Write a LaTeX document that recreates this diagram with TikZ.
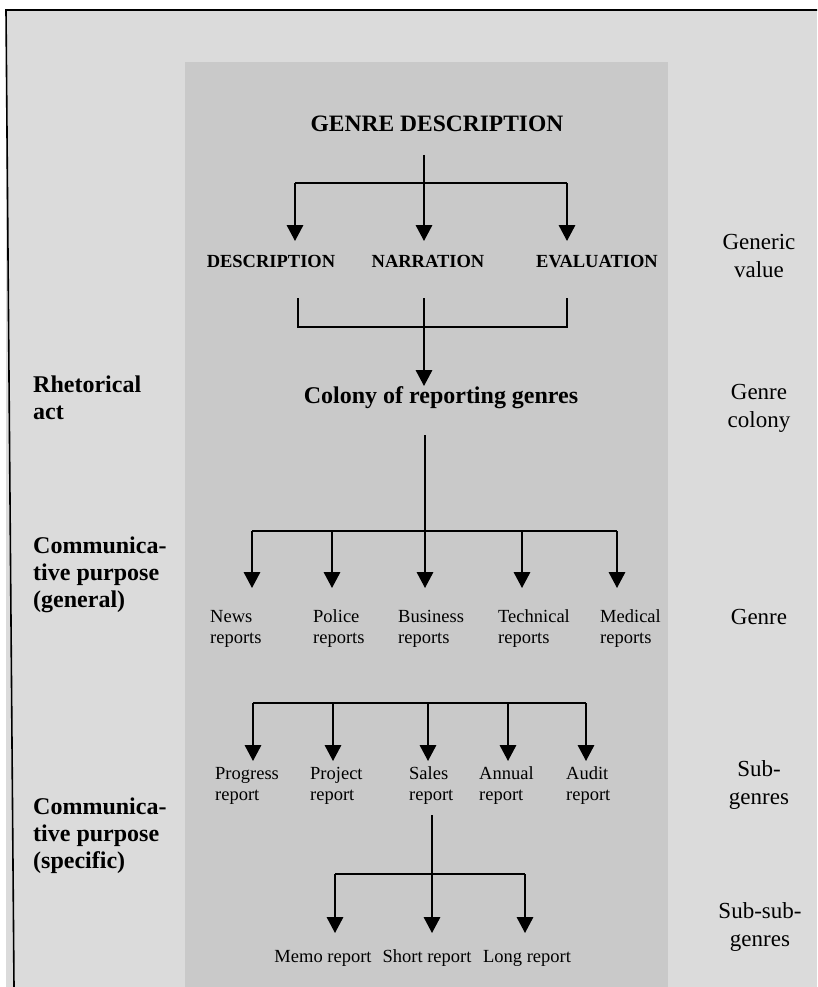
\documentclass[tikz,border=0pt]{standalone}
\usepackage{fontspec}
\setmainfont{Liberation Serif}
\usetikzlibrary{arrows.meta}

\definecolor{outerbg}{gray}{0.86}
\definecolor{panelbg}{gray}{0.79}

\begin{document}
\begin{tikzpicture}[x=1pt,y=-1pt,
  conn/.style={line width=1.8pt},
  arr/.style={conn,-{Triangle[length=16pt,width=16.5pt]}},
  titletext/.style={font=\bfseries\fontsize{23.5}{28}\selectfont,inner sep=0pt,anchor=base},
  valuetext/.style={font=\bfseries\fontsize{18.5}{22}\selectfont,inner sep=0pt,anchor=base},
  colonytext/.style={font=\bfseries\fontsize{24}{28}\selectfont,inner sep=0pt,anchor=base},
  leaf/.style={font=\fontsize{18.5}{20.5}\selectfont,inner sep=0pt,align=left,anchor=base west},
  lefttag/.style={font=\bfseries\fontsize{24}{27}\selectfont,inner sep=0pt,align=left,anchor=base west},
  righttag/.style={font=\fontsize{23}{28}\selectfont,inner sep=0pt,align=center,anchor=base}
]
\useasboundingbox (0,0) rectangle (817,987);
% page, frame and shaded column
\fill[white] (0,0) rectangle (817,987);
\fill[outerbg] (6,10) rectangle (817,987);
\fill[panelbg] (185,62) rectangle (668,987);
\draw[line width=1.6pt] (817,10) -- (6,10) -- (14,987);

% ---- generic values
\node[titletext] (gd) at (437,132) {GENRE DESCRIPTION};
\node[valuetext] (desc) at (271,267) {DESCRIPTION};
\node[valuetext] (narr) at (428,267) {NARRATION};
\node[valuetext] (eval) at (597,267) {EVALUATION};

\coordinate (gdS) at (424,155);
\coordinate (gdL) at (295,183);
\coordinate (gdR) at (567,183);
\coordinate (descN) at (295,241);
\coordinate (narrN) at (424,241);
\coordinate (evalN) at (567,241);
\draw[conn] (gdL) -- (gdR);
\draw[arr] (gdS) -- (narrN);
\draw[arr] (gdL) -- (descN);
\draw[arr] (gdR) -- (evalN);

% ---- colony
\node[colonytext] (colony) at (441,403) {Colony of reporting genres};
\coordinate (descS) at (298,298);
\coordinate (narrS) at (424,298);
\coordinate (evalS) at (567,298);
\coordinate (barL) at (298,327);
\coordinate (barR) at (567,327);
\coordinate (colonyN) at (424,386);
\draw[conn] (descS) -- (barL) -- (barR) -- (evalS);
\draw[arr] (narrS) -- (colonyN);

% ---- genres (node base = baseline of the last line)
\node[leaf] (news) at (210,643) {News\\ reports};
\node[leaf] (police) at (313,643) {Police\\reports};
\node[leaf] (business) at (398,643) {Business\\reports};
\node[leaf] (technical) at (498,643) {Technical\\reports};
\node[leaf] (medical) at (600,643) {Medical\\reports};

\coordinate (colonyS) at (425,435);
\coordinate (gbar) at (425,531);
\coordinate (gbarL) at (252,531);
\coordinate (gbarR) at (617,531);
\coordinate (gPolice) at (332,531);
\coordinate (gTech) at (522,531);
\draw[conn] (gbarL) -- (gbarR);
\draw[arr] (colonyS) -- (gbar |- 0,588);
\draw[arr] (gbarL) -- (gbarL |- 0,588);
\draw[arr] (gPolice) -- (gPolice |- 0,588);
\draw[arr] (gTech) -- (gTech |- 0,588);
\draw[arr] (gbarR) -- (gbarR |- 0,588);

% ---- sub-genres
\node[leaf] (progress) at (215,800) {Progress\\report};
\node[leaf] (project) at (310,800) {Project\\report};
\node[leaf] (sales) at (409,800) {Sales\\report};
\node[leaf] (annual) at (479,800) {Annual\\report};
\node[leaf] (audit) at (566,800) {Audit\\report};

\coordinate (sbarL) at (253,703);
\coordinate (sbarR) at (586,703);
\coordinate (sProject) at (333,703);
\coordinate (sSales) at (428,703);
\coordinate (sAnnual) at (508,703);
\draw[conn] (sbarL) -- (sbarR);
\draw[arr] (sbarL) -- (sbarL |- 0,761);
\draw[arr] (sProject) -- (sProject |- 0,761);
\draw[arr] (sSales) -- (sSales |- 0,761);
\draw[arr] (sAnnual) -- (sAnnual |- 0,761);
\draw[arr] (sbarR) -- (sbarR |- 0,761);

% ---- sub-sub-genres
\node[leaf,anchor=base] (memo) at (323,962) {Memo report};
\node[leaf,anchor=base] (short) at (427,962) {Short report};
\node[leaf,anchor=base] (long) at (527,962) {Long report};

\coordinate (salesS) at (432,815);
\coordinate (ssbar) at (432,874);
\coordinate (ssbarL) at (335,874);
\coordinate (ssbarR) at (525,874);
\draw[conn] (ssbarL) -- (ssbarR);
\draw[arr] (salesS) -- (ssbar |- 0,933);
\draw[arr] (ssbarL) -- (ssbarL |- 0,933);
\draw[arr] (ssbarR) -- (ssbarR |- 0,933);

% ---- side labels
\node[lefttag] (rhet) at (33,419) {Rhetorical\\act};
\node[lefttag] (cpgen) at (33,607) {Communica-\\tive purpose\\(general)};
\node[lefttag] (cpspec) at (33,868) {Communica-\\tive purpose\\(specific)};

\node[righttag] (genval) at (759,277) {Generic\\value};
\node[righttag] (gencol) at (759,427) {Genre\\colony};
\node[righttag] (genre) at (759,624) {Genre};
\node[righttag] (subg) at (759,804) {Sub-\\genres};
\node[righttag] (subsubg) at (760,946) {Sub-sub-\\genres};
\end{tikzpicture}
\end{document}
